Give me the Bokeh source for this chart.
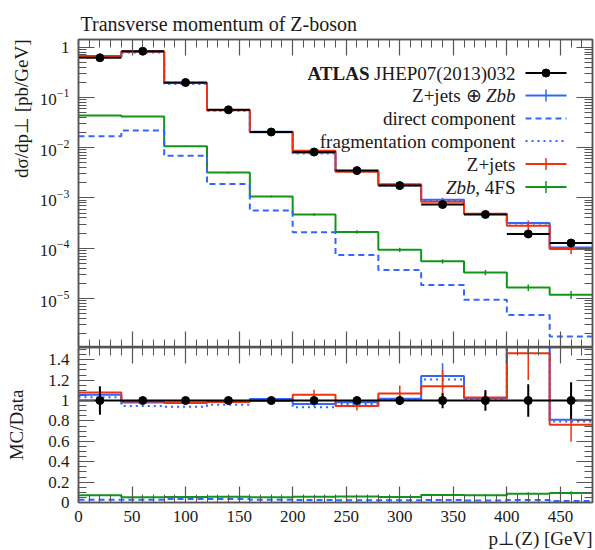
import numpy as np
from bokeh.plotting import figure
from bokeh.models import (LogAxis, LinearAxis, FixedTicker, Range1d, Label, Title,
                          LogTickFormatter, CustomJSTickFormatter)
from bokeh.layouts import column
from bokeh.embed import file_html
from bokeh.resources import INLINE

# ---------------- data ----------------
bin_edges = [0, 40, 80, 120, 160, 200, 240, 280, 320, 360, 400, 440, 480]
data_vals = [0.615, 0.83, 0.198, 0.0566, 0.0205, 0.0082, 0.0035, 0.00176,
             0.00074, 0.00047, 0.000192, 0.000127]
data_relerr = [0.14, 0.02, 0.02, 0.02, 0.02, 0.025, 0.03, 0.045, 0.075, 0.10, 0.16, 0.18]
zjets_zbb = [0.650, 0.813, 0.193, 0.0560, 0.0208, 0.00793, 0.00344, 0.00179,
             0.000918, 0.000481, 0.000317, 0.000103]
zjets_zbb_relerr = [0.015, 0.01, 0.01, 0.01, 0.015, 0.03, 0.03, 0.04, 0.10, 0.05, 0.12, 0.04]
direct = [0.0169, 0.0219, 0.0069, 0.0019, 0.00056, 0.000207, 0.000073, 0.000037,
          0.0000185, 0.0000094, 0.0000047, 0.00000175]
fragmentation = [0.635, 0.786, 0.186, 0.0542, 0.0205, 0.00765, 0.00338, 0.00177,
                 0.000893, 0.000478, 0.000311, 0.000101]
zjets = [0.664, 0.822, 0.194, 0.0558, 0.0204, 0.00867, 0.00331, 0.00188,
         0.000844, 0.000484, 0.000281, 0.0000969]
zjets_relerr = [0.015, 0.01, 0.01, 0.01, 0.015, 0.045, 0.045, 0.075, 0.14, 0.07, 0.18, 0.22]
zbb_4fs = [0.0436, 0.0418, 0.0107, 0.0032, 0.00107, 0.00047, 0.00021, 0.000093,
           0.000055, 0.000033, 0.0000166, 0.0000119]
zbb_relerr = [0.02, 0.02, 0.03, 0.04, 0.05, 0.06, 0.08, 0.10, 0.10, 0.12, 0.15, 0.18]

x_major = [0, 50, 100, 150, 200, 250, 300, 350, 400, 450]
x_minor = list(range(0, 481, 10))
y_major = [1e-5, 1e-4, 1e-3, 1e-2, 1e-1, 1]
r_major = [0, 0.2, 0.4, 0.6, 0.8, 1.0, 1.2, 1.4]

# ---------------- style / layout ----------------
FW, FH, FHR = 514, 308, 155
LEFT = 78
XR = (0, 480)
YR = (1.06e-6, 1.42)
RR = (0.0, 1.52)
INK = "#555555"
TXT = "#1a1a1a"
FONT = "Liberation Serif"
RED, BLUE, GREEN = "#EE3311", "#3366FF", "#109618"

edges = np.array(bin_edges, dtype=float)
centers = 0.5 * (edges[:-1] + edges[1:])
data = np.array(data_vals)


def px2x(px):
    return XR[0] + px / FW * (XR[1] - XR[0])


def py2y(py):
    lt, lb = np.log10(YR[1]), np.log10(YR[0])
    return 10 ** (lt - py / FH * (lt - lb))


def steps(vals):
    xs, ys = [], []
    for i, v in enumerate(vals):
        xs += [edges[i], edges[i + 1]]
        ys += [v, v]
    return xs, ys


def style_axis(ax, labels=True):
    ax.major_tick_in = 16
    ax.major_tick_out = 0
    ax.minor_tick_in = 8
    ax.minor_tick_out = 0
    ax.major_tick_line_color = INK
    ax.minor_tick_line_color = INK
    ax.major_tick_line_width = 1.2
    ax.minor_tick_line_width = 1
    ax.axis_line_color = INK
    ax.axis_line_width = 1.5
    ax.major_label_text_font = FONT
    ax.major_label_text_font_size = "17px"
    ax.major_label_text_color = TXT if labels else None
    ax.major_label_standoff = 9
    ax.axis_label = None


def title(text, align, size="19px", standoff=10):
    return Title(text=text, align=align, text_font=FONT, text_font_size=size,
                 text_font_style="normal", text_color=TXT, standoff=standoff)


# ---------------- main panel ----------------
p1 = figure(frame_width=FW, frame_height=FH, x_range=Range1d(*XR), y_range=Range1d(*YR),
            y_axis_type="log", output_backend="svg", toolbar_location=None,
            min_border_left=LEFT, min_border_right=2, min_border_top=39, min_border_bottom=0)
p1.xgrid.visible = False
p1.ygrid.visible = False
p1.outline_line_color = INK
p1.outline_line_width = 1.5
p1.title.text = "Transverse momentum of Z-boson"
p1.title.align = "left"
p1.title.offset = 2
p1.title.text_font = FONT
p1.title.text_font_size = "20px"
p1.title.text_font_style = "normal"
p1.title.text_color = TXT

xt = FixedTicker(ticks=x_major, minor_ticks=x_minor)
yt = FixedTicker(ticks=y_major, minor_ticks=[m * d for d in [1e-6, 1e-5, 1e-4, 1e-3, 1e-2, 1e-1, 1]
                                             for m in range(2, 10)])
p1.xaxis.ticker = xt
style_axis(p1.xaxis[0], labels=False)
p1.yaxis.ticker = yt
p1.yaxis.formatter = LogTickFormatter()
style_axis(p1.yaxis[0], labels=True)
p1.yaxis[0].major_label_overrides = {1: "1"}
ax_top = LinearAxis(ticker=xt)
style_axis(ax_top, labels=False)
p1.add_layout(ax_top, "above")
ax_right = LogAxis(ticker=yt)
style_axis(ax_right, labels=False)
p1.add_layout(ax_right, "right")
p1.add_layout(title("dσ/dp⊥ [pb/GeV]", "right", standoff=10), "left")

series = [
    (zbb_4fs, zbb_relerr, GREEN, "solid"),
    (direct, None, BLUE, "6 4"),
    (fragmentation, None, BLUE, "2 4"),
    (zjets_zbb, zjets_zbb_relerr, BLUE, "solid"),
    (zjets, zjets_relerr, RED, "solid"),
]
for vals, rel, col, dash in series:
    xs, ys = steps(vals)
    p1.line(xs, ys, line_color=col, line_width=2, line_dash=dash)
    if rel is not None:
        v = np.array(vals)
        r = np.array(rel)
        p1.segment(centers, v * (1 - r), centers, v * (1 + r), line_color=col, line_width=1.5)

# data
p1.segment(edges[:-1], data, edges[1:], data, line_color="black", line_width=2)
de = np.array(data_relerr)
p1.segment(centers, data * (1 - de), centers, data * (1 + de), line_color="black", line_width=2)
p1.scatter(centers, data, size=8, color="black")

# legend
rows = [33.5, 56, 79, 101.5, 124.5, 147.5]
TX = px2x(437)
LX0, LX1, LXC = px2x(447), px2x(488), px2x(467.5)
LF = "19px"


def lab(text, row, off=0, style="normal"):
    p1.add_layout(Label(x=TX, y=py2y(rows[row]), x_offset=off, text=text, text_font=FONT,
                        text_font_size=LF, text_font_style=style, text_color=TXT,
                        text_align="right", text_baseline="middle"))


lab("JHEP07(2013)032", 0)
lab("ATLAS", 0, -146, "bold")
lab("Zbb", 1, 0, "italic")
lab("Z+jets ⊕", 1, -34)
lab("direct component", 2)
lab("fragmentation component", 3)
lab("Z+jets", 4)
lab(", 4FS", 5)
lab("Zbb", 5, -40, "italic")

leg = [("black", "solid", 0), (BLUE, "solid", 1), (BLUE, "6 4", 2), (BLUE, "2 4", 3),
       (RED, "solid", 4), (GREEN, "solid", 5)]
for col, dash, row in leg:
    yy = py2y(rows[row])
    p1.segment([LX0], [yy], [LX1], [yy], line_color=col, line_width=2, line_dash=dash)
    if row in (1, 4, 5):
        p1.segment([LXC], [py2y(rows[row] - 6)], [LXC], [py2y(rows[row] + 6)],
                   line_color=col, line_width=1.5)
p1.scatter([LXC], [py2y(rows[0])], size=8, color="black")

# ---------------- ratio panel ----------------
p2 = figure(frame_width=FW, frame_height=FHR, x_range=p1.x_range, y_range=Range1d(*RR),
            output_backend="svg", toolbar_location=None,
            min_border_left=LEFT, min_border_right=2, min_border_top=0, min_border_bottom=46)
p2.xgrid.visible = False
p2.ygrid.visible = False
p2.outline_line_color = INK
p2.outline_line_width = 1.5
p2.xaxis.ticker = xt
style_axis(p2.xaxis[0], labels=True)
p2.xaxis[0].major_label_standoff = 8
rt = FixedTicker(ticks=r_major, minor_ticks=[round(0.05 * i, 2) for i in range(0, 31)])
p2.yaxis.ticker = rt
p2.yaxis.formatter = CustomJSTickFormatter(code="return (Math.round(tick*10)/10).toString()")
style_axis(p2.yaxis[0], labels=True)
p2.yaxis[0].axis_label = "MC/Data"
p2.yaxis[0].axis_label_text_font = FONT
p2.yaxis[0].axis_label_text_font_size = "19px"
p2.yaxis[0].axis_label_text_font_style = "normal"
p2.yaxis[0].axis_label_text_color = TXT
p2.yaxis[0].axis_label_standoff = 18
ax_top2 = LinearAxis(ticker=xt)
style_axis(ax_top2, labels=False)
p2.add_layout(ax_top2, "above")
ax_right2 = LinearAxis(ticker=rt)
style_axis(ax_right2, labels=False)
p2.add_layout(ax_right2, "right")
p2.add_layout(title("p⊥(Z) [GeV]", "right", standoff=2), "below")

for vals, rel, col, dash in series:
    ratio = np.array(vals) / data
    xs, ys = steps(ratio)
    p2.line(xs, ys, line_color=col, line_width=2, line_dash=dash)
    if rel is not None:
        r = np.array(rel)
        p2.segment(centers, ratio * (1 - r), centers, ratio * (1 + r), line_color=col, line_width=1.5)

one = data / data
xs, ys = steps(one)
p2.line(xs, ys, line_color="black", line_width=2)
p2.segment(centers, one - de, centers, one + de, line_color="black", line_width=2)
p2.scatter(centers, one, size=8, color="black")

layout = column(p1, p2, spacing=0)
open("out.html", "w").write(file_html(layout, INLINE))
